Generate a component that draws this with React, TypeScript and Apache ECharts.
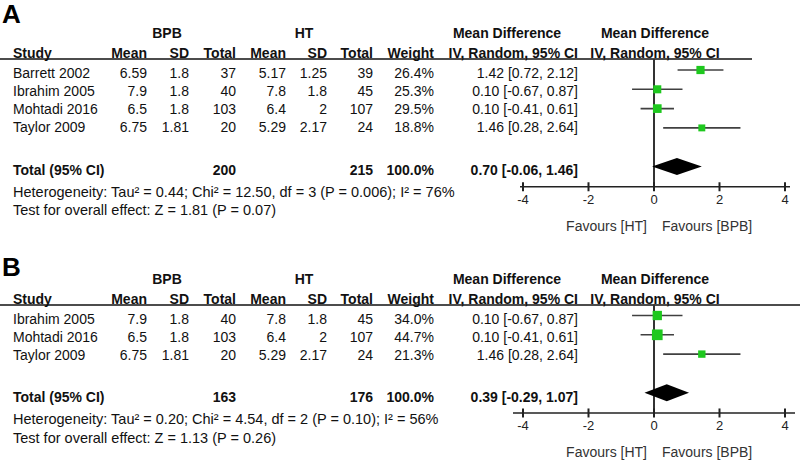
import React, { useEffect, useRef } from "react";
import * as echarts from "echarts";

// ---------- Panel A data ----------
const studiesA = ["Barrett 2002", "Ibrahim 2005", "Mohtadi 2016", "Taylor 2009"];
const bpbMeanA = [6.59, 7.9, 6.5, 6.75];
const bpbSdA = [1.8, 1.8, 1.8, 1.81];
const bpbTotalA = [37, 40, 103, 20];
const htMeanA = [5.17, 7.8, 6.4, 5.29];
const htSdA = [1.25, 1.8, 2, 2.17];
const htTotalA = [39, 45, 107, 24];
const weightA = [26.4, 25.3, 29.5, 18.8];
const mdA = [1.42, 0.1, 0.1, 1.46];
const loA = [0.72, -0.67, -0.41, 0.28];
const hiA = [2.12, 0.87, 0.61, 2.64];
const pooledA = [0.7, -0.06, 1.46];
const totalsA = [200, 215];
const hetA = "Heterogeneity: Tau\u00B2 = 0.44; Chi\u00B2 = 12.50, df = 3 (P = 0.006); I\u00B2 = 76%";
const testA = "Test for overall effect: Z = 1.81 (P = 0.07)";

// ---------- Panel B data ----------
const studiesB = ["Ibrahim 2005", "Mohtadi 2016", "Taylor 2009"];
const bpbMeanB = [7.9, 6.5, 6.75];
const bpbSdB = [1.8, 1.8, 1.81];
const bpbTotalB = [40, 103, 20];
const htMeanB = [7.8, 6.4, 5.29];
const htSdB = [1.8, 2, 2.17];
const htTotalB = [45, 107, 24];
const weightB = [34.0, 44.7, 21.3];
const mdB = [0.1, 0.1, 1.46];
const loB = [-0.67, -0.41, 0.28];
const hiB = [0.87, 0.61, 2.64];
const pooledB = [0.39, -0.29, 1.07];
const totalsB = [163, 176];
const hetB = "Heterogeneity: Tau\u00B2 = 0.20; Chi\u00B2 = 4.54, df = 2 (P = 0.10); I\u00B2 = 56%";
const testB = "Test for overall effect: Z = 1.13 (P = 0.26)";

const xTicks = [-4, -2, 0, 2, 4];

const FONT = "'Liberation Sans', Arial, Helvetica, sans-serif";
const TXT = "#111";
const AX_COLOR = "#222";

function t(text: string, x: number, y: number, align: string, bold = false, size = 14, color = TXT) {
  return {
    type: "text",
    x,
    y,
    style: {
      text,
      fill: color,
      fontSize: size,
      fontWeight: bold ? "bold" : "normal",
      fontFamily: FONT,
      align,
      verticalAlign: "middle",
    },
  };
}

const fmt2 = (v: number) => v.toFixed(2);
const ciText = (m: number, l: number, h: number) => `${fmt2(m)} [${fmt2(l)}, ${fmt2(h)}]`;

type Panel = {
  label: string;
  studies: string[];
  bpbMean: number[];
  bpbSd: number[];
  bpbTotal: number[];
  htMean: number[];
  htSd: number[];
  htTotal: number[];
  weight: number[];
  md: number[];
  lo: number[];
  hi: number[];
  pooled: number[];
  totals: number[];
  het: string;
  test: string;
  lineY: number;
  lineEnd: number;
  labelY: number;
  gridTop: number;
  axisFrom: number;
  axisTo: number;
};

const panels: Panel[] = [
  {
    label: "A", studies: studiesA, bpbMean: bpbMeanA, bpbSd: bpbSdA, bpbTotal: bpbTotalA,
    htMean: htMeanA, htSd: htSdA, htTotal: htTotalA, weight: weightA, md: mdA, lo: loA, hi: hiA,
    pooled: pooledA, totals: totalsA, het: hetA, test: testA,
    lineY: 59, lineEnd: 752, labelY: 14, gridTop: 59, axisFrom: 520, axisTo: 790,
  },
  {
    label: "B", studies: studiesB, bpbMean: bpbMeanB, bpbSd: bpbSdB, bpbTotal: bpbTotalB,
    htMean: htMeanB, htSd: htSdB, htTotal: htTotalB, weight: weightB, md: mdB, lo: loB, hi: hiB,
    pooled: pooledB, totals: totalsB, het: hetB, test: testB,
    lineY: 305, lineEnd: 800, labelY: 267, gridTop: 304.5, axisFrom: 513, axisTo: 795,
  },
];

const COL = {
  study: 13, bpbMean: 147, bpbSd: 189, bpbTotal: 236, htMean: 286, htSd: 327, htTotal: 373,
  weight: 434, md: 578,
};
const ROW_H = 19.3;
const PLOT_LEFT = 523;
const PLOT_W = 262;
const Y_MIN = -0.57;
const yMaxOf = (n: number) => n + 2.05;

function buildOption() {
  const graphic: any[] = [];
  const grid: any[] = [];
  const xAxis: any[] = [];
  const yAxis: any[] = [];
  const series: any[] = [];

  panels.forEach((p, gi) => {
    const n = p.studies.length;
    const yMin = Y_MIN;
    const yMax = yMaxOf(n);
    const gridH = (yMax - yMin) * ROW_H;
    const axisY = p.gridTop + gridH;

    graphic.push({
      type: "text", x: 2, y: p.labelY,
      style: { text: p.label, fill: "#000", fontSize: 26, fontWeight: "bold", fontFamily: FONT, align: "left", verticalAlign: "middle" },
    });

    const h1 = p.lineY - 26;
    const h2 = p.lineY - 6.5;
    graphic.push(t("BPB", 167, h1, "center", true));
    graphic.push(t("HT", 304, h1, "center", true));
    graphic.push(t("Mean Difference", 507, h1, "center", true));
    graphic.push(t("Mean Difference", 655, h1, "center", true));
    graphic.push(t("Study", COL.study, h2, "left", true));
    graphic.push(t("Mean", COL.bpbMean, h2, "right", true));
    graphic.push(t("SD", COL.bpbSd, h2, "right", true));
    graphic.push(t("Total", COL.bpbTotal, h2, "right", true));
    graphic.push(t("Mean", COL.htMean, h2, "right", true));
    graphic.push(t("SD", COL.htSd, h2, "right", true));
    graphic.push(t("Total", COL.htTotal, h2, "right", true));
    graphic.push(t("Weight", COL.weight, h2, "right", true));
    graphic.push(t("IV, Random, 95% CI", COL.md, h2, "right", true));
    graphic.push(t("IV, Random, 95% CI", 655, h2, "center", true));

    graphic.push({
      type: "line",
      shape: { x1: 0, y1: p.lineY, x2: p.lineEnd, y2: p.lineY },
      style: { stroke: "#111", lineWidth: 1.5 },
    });
    graphic.push({
      type: "line",
      shape: { x1: p.axisFrom, y1: axisY, x2: p.axisTo, y2: axisY },
      style: { stroke: AX_COLOR, lineWidth: 1.5 },
    });

    p.studies.forEach((s, i) => {
      const y = p.lineY + 13.5 + 18.3 * i;
      graphic.push(t(s, COL.study, y, "left"));
      graphic.push(t(String(p.bpbMean[i]), COL.bpbMean, y, "right"));
      graphic.push(t(String(p.bpbSd[i]), COL.bpbSd, y, "right"));
      graphic.push(t(String(p.bpbTotal[i]), COL.bpbTotal, y, "right"));
      graphic.push(t(String(p.htMean[i]), COL.htMean, y, "right"));
      graphic.push(t(String(p.htSd[i]), COL.htSd, y, "right"));
      graphic.push(t(String(p.htTotal[i]), COL.htTotal, y, "right"));
      graphic.push(t(p.weight[i].toFixed(1) + "%", COL.weight, y, "right"));
      graphic.push(t(ciText(p.md[i], p.lo[i], p.hi[i]), COL.md, y, "right"));
    });

    const ty = p.lineY + 13.5 + 18.3 * n + 24;
    graphic.push(t("Total (95% CI)", COL.study, ty, "left", true));
    graphic.push(t(String(p.totals[0]), COL.bpbTotal, ty, "right", true));
    graphic.push(t(String(p.totals[1]), COL.htTotal, ty, "right", true));
    graphic.push(t("100.0%", COL.weight, ty, "right", true));
    graphic.push(t(ciText(p.pooled[0], p.pooled[1], p.pooled[2]), COL.md, ty, "right", true));
    graphic.push(t(p.het, COL.study, ty + 22, "left", false, 14.5));
    graphic.push(t(p.test, COL.study, ty + 40.5, "left", false, 14.5));

    const fy = axisY + 39.5;
    graphic.push(t("Favours [HT]", 647, fy, "right", false, 14, "#333"));
    graphic.push(t("Favours [BPB]", 662, fy, "left", false, 14, "#333"));

    grid.push({ left: PLOT_LEFT, top: p.gridTop, width: PLOT_W, height: gridH });
    xAxis.push({
      gridIndex: gi, type: "value", min: -4, max: 4, interval: 2, position: "bottom",
      axisLine: { show: false, onZero: false },
      axisTick: { show: false },
      axisLabel: { show: true, fontSize: 13, color: AX_COLOR, margin: 6, fontFamily: FONT },
      splitLine: { show: false },
    });
    yAxis.push({ gridIndex: gi, type: "value", min: yMin, max: yMax, inverse: true, show: false });

    // no-effect line at x = 0
    series.push({
      type: "custom", xAxisIndex: gi, yAxisIndex: gi,
      data: [[0, yMin, yMax]],
      encode: { x: 0, y: 1 },
      renderItem: (params: any, api: any) => {
        const a = api.coord([api.value(0), api.value(1)]);
        const b = api.coord([api.value(0), api.value(2)]);
        return {
          type: "line",
          shape: { x1: a[0], y1: a[1], x2: b[0], y2: b[1] },
          style: { stroke: "#333", lineWidth: 2 },
        };
      },
    });
    // axis ticks crossing the axis line
    series.push({
      type: "custom", xAxisIndex: gi, yAxisIndex: gi,
      data: xTicks.map((v) => [v, yMax]),
      encode: { x: 0, y: 1 },
      renderItem: (params: any, api: any) => {
        const c = api.coord([api.value(0), api.value(1)]);
        return {
          type: "line",
          shape: { x1: c[0], y1: c[1] - 4.5, x2: c[0], y2: c[1] + 4.5 },
          style: { stroke: AX_COLOR, lineWidth: 2 },
        };
      },
    });
    // studies
    series.push({
      type: "custom", xAxisIndex: gi, yAxisIndex: gi,
      data: p.studies.map((_, i) => [p.md[i], p.lo[i], p.hi[i], i, p.weight[i]]),
      encode: { x: [0, 1, 2], y: 3 },
      renderItem: (params: any, api: any) => {
        const row = api.value(3);
        const lo = api.coord([api.value(1), row]);
        const hi = api.coord([api.value(2), row]);
        const c = api.coord([api.value(0), row]);
        const s = 1.6 * Math.sqrt(api.value(4));
        return {
          type: "group",
          children: [
            { type: "rect", shape: { x: lo[0], y: lo[1] - 0.8, width: hi[0] - lo[0], height: 1.6 }, style: { fill: "#404040" } },
            { type: "rect", shape: { x: c[0] - s / 2, y: c[1] - s / 2, width: s, height: s }, style: { fill: "#1ec81e" } },
          ],
        };
      },
    });
    // pooled diamond
    series.push({
      type: "custom", xAxisIndex: gi, yAxisIndex: gi,
      data: [[p.pooled[0], p.pooled[1], p.pooled[2], n + 1]],
      encode: { x: [0, 1, 2], y: 3 },
      renderItem: (params: any, api: any) => {
        const row = api.value(3);
        const lo = api.coord([api.value(1), row]);
        const hi = api.coord([api.value(2), row]);
        const c = api.coord([api.value(0), row]);
        const h = 8.5;
        return {
          type: "polygon",
          shape: { points: [[lo[0], lo[1]], [c[0], c[1] - h], [hi[0], hi[1]], [c[0], c[1] + h]] },
          style: { fill: "#000" },
        };
      },
    });
  });

  return {
    animation: false,
    backgroundColor: "#fff",
    grid,
    xAxis,
    yAxis,
    series,
    graphic,
  };
}

export default function App() {
  const ref = useRef<HTMLDivElement>(null);
  useEffect(() => {
    if (!ref.current) return;
    const chart = echarts.init(ref.current, undefined, { renderer: "svg" });
    chart.setOption(buildOption() as any);
    return () => chart.dispose();
  }, []);
  return (
    <div
      ref={ref}
      style={{ position: "fixed", left: 0, top: 0, width: 800, height: 462, background: "#fff" }}
    />
  );
}
